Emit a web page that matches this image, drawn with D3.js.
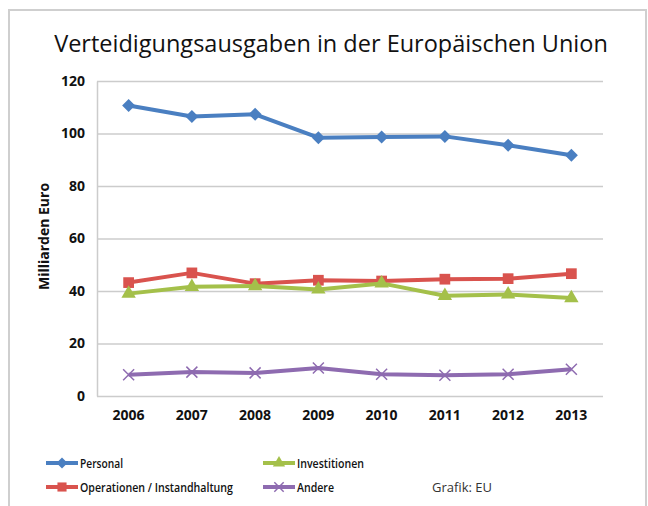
<!DOCTYPE html>
<html>
<head>
<meta charset="utf-8">
<script src="https://cdn.jsdelivr.net/npm/d3@7"></script>
<style>
  body { margin: 0; background: #fff; }
  text { font-family: "Open Sans", sans-serif; }
</style>
</head>
<body>
<div id="root"></div>
<script>
var years = ['2006', '2007', '2008', '2009', '2010', '2011', '2012', '2013'];
var yTicks = [0, 20, 40, 60, 80, 100, 120];

var personal = [110.7, 106.5, 107.3, 98.4, 98.7, 98.9, 95.5, 91.7];
var operationen = [43.2, 46.9, 42.8, 44.1, 43.8, 44.5, 44.7, 46.6];
var investitionen = [39.0, 41.6, 41.9, 40.6, 42.9, 38.2, 38.7, 37.3];
var andere = [8.1, 9.1, 8.8, 10.7, 8.3, 7.9, 8.3, 10.2];

var seriesNames = ['Personal', 'Operationen / Instandhaltung', 'Investitionen', 'Andere'];

var series = [
  { name: seriesNames[0], values: personal, color: '#4a7fc1', marker: 'diamond' },
  { name: seriesNames[1], values: operationen, color: '#d9534e', marker: 'square' },
  { name: seriesNames[2], values: investitionen, color: '#a4c04a', marker: 'triangle' },
  { name: seriesNames[3], values: andere, color: '#8e6bb0', marker: 'cross' }
];

var W = 648, H = 506;
var margin = { top: 81, right: 45, bottom: 110, left: 97 },
  width = W - margin.left - margin.right,
  height = H - margin.top - margin.bottom;

var svg = d3.select('#root')
  .append('svg')
    .attr('width', W)
    .attr('height', H);

// frame
svg.append('path')
  .attr('d', 'M9,506 V10 H646 V506')
  .attr('fill', 'none')
  .attr('stroke', '#cfcfcf')
  .attr('stroke-width', 2);

svg.append('text')
  .attr('x', 331)
  .attr('y', 52)
  .attr('text-anchor', 'middle')
  .attr('font-size', '23.5px')
  .attr('fill', '#111')
  .text('Verteidigungsausgaben in der Europäischen Union');

var g = svg.append('g')
  .attr('transform', 'translate(' + margin.left + ', ' + margin.top + ')');

var xScale = d3.scaleBand()
  .domain(years)
  .range([0, width])
  .paddingInner(0)
  .paddingOuter(0);

var yScale = d3.scaleLinear()
  .domain([0, 120])
  .range([height, 0]);

// gridlines
g.append('g')
  .attr('class', 'grid')
  .call(d3.axisLeft(yScale).tickValues(yTicks).tickSize(-width).tickFormat(''))
  .call(a => a.select('.domain').remove())
  .selectAll('line')
    .attr('stroke', '#cccccc')
    .attr('stroke-width', 1.5);

// y axis
g.append('g')
  .attr('class', 'y-axis')
  .call(d3.axisLeft(yScale).tickValues(yTicks).tickSize(0).tickPadding(12))
  .call(a => a.select('.domain').attr('stroke', '#cccccc').attr('stroke-width', 1.5))
  .selectAll('text')
    .attr('font-size', '14px')
    .attr('font-weight', 'bold')
    .attr('fill', '#111')
    .style('font-family', '"Open Sans", sans-serif');

// x axis
g.append('g')
  .attr('class', 'x-axis')
  .attr('transform', 'translate(0, ' + height + ')')
  .call(d3.axisBottom(xScale).tickSize(0).tickPadding(14))
  .call(a => a.select('.domain').remove())
  .selectAll('text')
    .attr('font-size', '14px')
    .attr('font-weight', 'bold')
    .attr('fill', '#111')
    .style('font-family', '"Open Sans", sans-serif');

g.append('text')
  .attr('transform', 'rotate(-90)')
  .attr('x', -height / 2 + 2)
  .attr('y', -48)
  .attr('text-anchor', 'middle')
  .attr('font-size', '14px')
  .attr('font-weight', 'bold')
  .attr('fill', '#111')
  .text('Milliarden Euro');

var cx = d => xScale(d) + xScale.bandwidth() / 2;

var markerPath = function (type, k) {
  k = k || 1;
  if (type === 'diamond') { var r = 6.5 * k; return 'M0,' + (-r) + 'L' + r + ',0L0,' + r + 'L' + (-r) + ',0Z'; }
  if (type === 'square') return d3.symbol().type(d3.symbolSquare).size(115 * k * k)();
  if (type === 'triangle') return d3.symbol().type(d3.symbolTriangle).size(90 * k * k)();
  var c = 5.5 * k;
  return 'M' + (-c) + ',' + (-c) + 'L' + c + ',' + c + 'M' + (-c) + ',' + c + 'L' + c + ',' + (-c);
};

var line = d3.line()
  .x((v, i) => cx(years[i]))
  .y(v => yScale(v));

series.forEach(s => {
  g.append('path')
    .attr('d', line(s.values))
    .attr('fill', 'none')
    .attr('stroke', s.color)
    .attr('stroke-width', 4)
    .attr('stroke-linejoin', 'round');

  g.selectAll('.m-' + s.marker)
    .data(s.values)
    .enter()
    .append('path')
      .attr('class', 'm-' + s.marker)
      .attr('transform', (v, i) => 'translate(' + cx(years[i]) + ',' + yScale(v) + ')')
      .attr('d', markerPath(s.marker))
      .attr('fill', s.marker === 'cross' ? 'none' : s.color)
      .attr('stroke', s.color)
      .attr('stroke-width', s.marker === 'cross' ? 1.5 : 0);
});

// legend
var legendPos = [
  { x: 46, y: 463, w: 43 },
  { x: 46, y: 487, w: 153 },
  { x: 263, y: 463, w: 67 },
  { x: 263, y: 487, w: 37 }
];

series.forEach((s, i) => {
  var p = legendPos[i];
  var lg = svg.append('g').attr('transform', 'translate(' + p.x + ',' + p.y + ')');
  lg.append('line')
    .attr('x1', 0).attr('x2', 32)
    .attr('stroke', s.color)
    .attr('stroke-width', 4);
  lg.append('path')
    .attr('transform', 'translate(16,0)')
    .attr('d', markerPath(s.marker, 0.85))
    .attr('fill', s.marker === 'cross' ? 'none' : s.color)
    .attr('stroke', s.color)
    .attr('stroke-width', s.marker === 'cross' ? 1.5 : 0);
  lg.append('text')
    .attr('x', 34)
    .attr('dy', '0.35em')
    .attr('font-size', '13px')
    .attr('font-weight', 600)
    .attr('fill', '#111')
    .attr('textLength', p.w)
    .attr('lengthAdjust', 'spacingAndGlyphs')
    .text(s.name);
});

svg.append('text')
  .attr('x', 432)
  .attr('y', 487)
  .attr('dy', '0.35em')
  .attr('font-size', '13px')
  .attr('fill', '#333')
  .text('Grafik: EU');
</script>
</body>
</html>
